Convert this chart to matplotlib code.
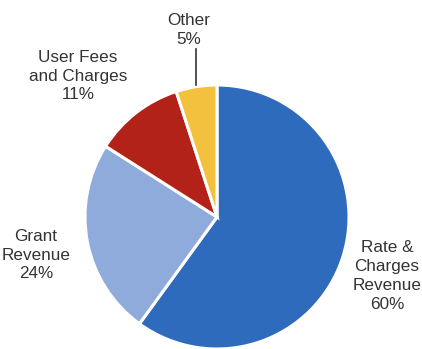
import matplotlib.pyplot as plt

plt.rcParams['font.family'] = ['Liberation Sans', 'DejaVu Sans']

# Revenue shares (%)
labels = ['Rate &\nCharges\nRevenue', 'Grant\nRevenue', 'User Fees\nand Charges', 'Other']
shares = [60, 24, 11, 5]
colors = ['#2f6bbd', '#8fabdc', '#b32218', '#f3c13d']

W, H = 422, 349
fig = plt.figure(figsize=(W / 100, H / 100), dpi=100)
ax = fig.add_axes([0, 0, 1, 1])

# pie in pixel-like coordinates (y measured from bottom)
cx, cy, r = 217, H - 217, 132
ax.pie(shares, colors=colors, startangle=90, counterclock=False,
       center=(cx, cy), radius=r, frame=True,
       wedgeprops=dict(edgecolor='white', linewidth=2.2))
ax.set_xlim(0, W)
ax.set_ylim(0, H)
ax.set_aspect('equal')
ax.axis('off')

txt = dict(ha='center', va='center', fontsize=12.3, color='#333333', linespacing=1.32)
label_pos = [(387, 276), (36, 255), (78, 76), (189, 30)]
for lab, val, (x, y) in zip(labels, shares, label_pos):
    ax.text(x, H - y, f'{lab}\n{val}%', **txt)

# leader line for "Other"
ax.plot([196, 196], [H - 49, H - 85], color='#333333', linewidth=1.2)

fig.savefig('out.png', dpi=100)
